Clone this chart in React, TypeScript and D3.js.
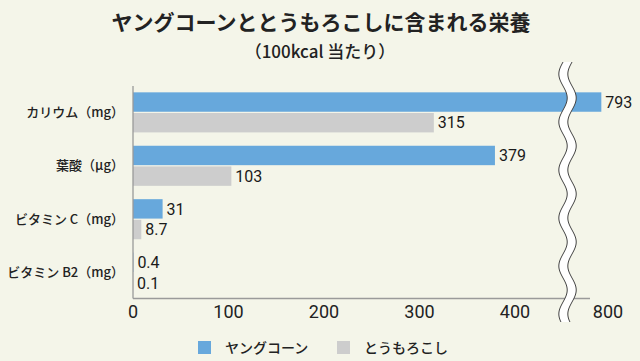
import { useMemo } from 'react';
import * as d3 from 'd3';

const categories = ['カリウム（mg）', '葉酸（μg）', 'ビタミン C（mg）', 'ビタミン B2（mg）'];
const seriesNames = ['ヤングコーン', 'とうもろこし'];
const babyCornValues = [793, 379, 31, 0.4];
const cornValues = [315, 103, 8.7, 0.1];
const tickValues = [0, 100, 200, 300, 400, 800];
const breakValue = 455;

const colors = ['#67a8dc', '#cdcdcd'];
const JP = '"Noto Sans CJK JP", "Noto Sans", sans-serif';
const NUM = 'Roboto, "Noto Sans", sans-serif';

export default function App() {
  const width = 640;
  const height = 361;

  // broken axis: 0-460 linear, then jumps to 770-800
  const x = d3.scaleLinear().domain([0, 460, 770, 800]).range([133, 572.3, 579.4, 608]);
  const y = d3.scaleBand<string>().domain(categories).range([87, 298]).paddingInner(0.25).paddingOuter(0.1);
  const sub = d3.scaleBand<number>().domain([0, 1]).range([0, y.bandwidth()]).paddingInner(0.06);

  const rows = categories.map((c, i) => ({ cat: c, vals: [babyCornValues[i], cornValues[i]] }));
  const axisY = 298.5;

  const wavePaths = useMemo(() => {
    const cx = x(breakValue);
    const top = 62;
    const bottom = 323;
    const pts = d3.range(top, bottom + 1, 2);
    const wx = (yy: number) => cx + 4.2 * Math.sin(((yy - top) / 48) * 2 * Math.PI + Math.PI);
    const left = pts.map((yy) => [wx(yy) - 4.5, yy] as [number, number]);
    const right = pts.map((yy) => [wx(yy) + 4.5, yy] as [number, number]);
    const line = d3.line();
    const fill = line([...left, ...right.slice().reverse()]) + 'Z';
    return { fill, left: line(left) ?? '', right: line(right) ?? '' };
  }, []);

  return (
    <svg width={width} height={height} style={{ position: 'fixed', left: 0, top: 0 }}>
      <rect width={width} height={height} fill="#f4f5e9" />
      <text x={321} y={30} textAnchor="middle" fontFamily={JP} fontWeight={700} fontSize={21} fill="#222">
        ヤングコーンととうもろこしに含まれる栄養
      </text>
      <text x={320} y={58} textAnchor="middle" fontFamily={JP} fontWeight={500} fontSize={17} fill="#222">
        （100kcal 当たり）
      </text>

      {rows.map((r) => (
        <g key={r.cat} transform={`translate(0,${y(r.cat)})`}>
          {r.vals.map((v, j) => (
            <g key={j}>
              <rect x={x(0)} y={sub(j)} width={x(v) - x(0)} height={sub.bandwidth()} fill={colors[j]} />
              <text
                x={x(v) + 4}
                y={(sub(j) ?? 0) + sub.bandwidth() / 2}
                dy="0.36em"
                fontFamily={NUM}
                fontWeight={400}
                fontSize={16}
                fill="#1a1a1a"
              >
                {String(v)}
              </text>
            </g>
          ))}
          <text
            x={124}
            y={y.bandwidth() / 2}
            dy="0.36em"
            textAnchor="end"
            fontFamily={JP}
            fontWeight={500}
            fontSize={13}
            fill="#222"
          >
            {r.cat}
          </text>
        </g>
      ))}

      <line x1={x(0)} x2={x(0)} y1={86} y2={axisY} stroke="#9a9a9a" strokeWidth={1.3} />
      <line x1={x(0)} x2={590} y1={axisY} y2={axisY} stroke="#9a9a9a" strokeWidth={1.3} />
      {tickValues.map((t) => (
        <text key={t} x={x(t)} y={318} textAnchor="middle" fontFamily={NUM} fontSize={18} fill="#222">
          {t}
        </text>
      ))}

      <path d={wavePaths.fill} fill="#ffffff" />
      <path d={wavePaths.left} fill="none" stroke="#444" strokeWidth={1} />
      <path d={wavePaths.right} fill="none" stroke="#444" strokeWidth={1} />

      {seriesNames.map((name, i) => (
        <g key={name} transform={`translate(${[198, 337][i]},341)`}>
          <rect width={13} height={13} fill={colors[i]} />
          <text x={27} y={6.5} dy="0.36em" fontFamily={JP} fontWeight={500} fontSize={14} fill="#222">
            {name}
          </text>
        </g>
      ))}
    </svg>
  );
}
